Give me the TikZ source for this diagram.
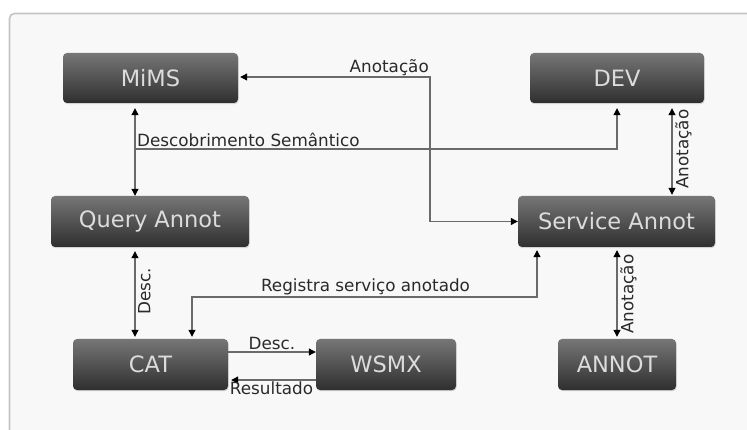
\documentclass[tikz,border=0pt]{standalone}
\usepackage{fontspec}
\setmainfont{DejaVu Sans}
\usetikzlibrary{arrows.meta,shadows,calc}
\definecolor{panelbg}{HTML}{F8F8F8}
\definecolor{panelborder}{HTML}{C4C4C4}
\definecolor{boxtop}{HTML}{767676}
\definecolor{boxmid}{HTML}{3C3C3C}
\definecolor{boxbot}{HTML}{2F2F2F}
\definecolor{boxtext}{HTML}{DCDCDC}
\definecolor{linecol}{HTML}{6A6A6A}
\definecolor{labcol}{HTML}{2A2A2A}
\tikzset{
  box/.style={rounded corners=4pt, top color=boxtop, middle color=boxmid, bottom color=boxbot,
    draw=none, text=boxtext, font=\fontsize{22.5}{24}\selectfont,
    drop shadow={shadow xshift=0.6pt, shadow yshift=-1.2pt, opacity=0.3},
    inner sep=0pt},
  conn/.style={draw=linecol, line width=1.1pt,
    arrows={-}, >={Triangle[length=7pt,width=7pt,black]}},
  lab/.style={text=labcol, font=\fontsize{16.8}{18}\selectfont, inner sep=1pt},
}
\begin{document}
\begin{tikzpicture}[x=1pt, y=-1pt]
\useasboundingbox (0,0) rectangle (747,430);
\clip (0,0) rectangle (747,430);
\fill[white] (0,0) rectangle (747,430);
\draw[draw=panelborder, line width=1.6pt, fill=panelbg, rounded corners=5pt] (9.5,13.5) rectangle (790,470);

% nodes
\node[box, minimum width=175pt, minimum height=50pt] (mims) at (150.5,78) {MiMS};
\node[box, minimum width=174pt, minimum height=50pt] (dev) at (617,78) {DEV};
\node[box, minimum width=198pt, minimum height=51pt] (qa) at (150,221.5) {Query Annot};
\node[box, minimum width=197pt, minimum height=51pt] (sa) at (616.5,221.5) {Service Annot};
\node[box, minimum width=155pt, minimum height=51pt] (cat) at (150.5,364.5) {CAT};
\node[box, minimum width=140pt, minimum height=51pt] (wsmx) at (386,364.5) {WSMX};
\node[box, minimum width=118pt, minimum height=51pt] (annot) at (617,364.5) {ANNOT};

% helper coordinates
\coordinate (xA) at (135,0);
\coordinate (xB) at (430,150);
\coordinate (xC) at (672,0);
\coordinate (xD) at (537,0);
\coordinate (xF) at (617,0);
\coordinate (dsem) at (135,149);
\coordinate (reg) at (192,297);

% MiMS <-> Query Annot
\draw[conn,<->] ([yshift=-5pt]mims.south -| xA) -- (qa.north -| xA);
% Descobrimento Semantico
\draw[conn,->] (dsem) -| ([yshift=-5pt]dev.south);
\node[lab, anchor=south west] (ldsem) at (136,148) {Descobrimento Semântico};
% Anotacao MiMS <-> Service Annot
\draw[conn,<->] ([xshift=2pt,yshift=1pt]mims.east) -| (xB) |- (sa.west);
\node[lab, anchor=south east] (lanot1) at (430,76.5) {Anotação};
% DEV <-> Service Annot
\draw[conn,<->] ([yshift=-5pt]dev.south -| xC) -- ([yshift=1pt]sa.north -| xC);
\node[lab, rotate=90, anchor=north] (lanot2) at (674,149) {Anotação};
% Query Annot <-> CAT
\draw[conn,<->] ([yshift=-4pt]qa.south -| xA) -- ([yshift=2pt]cat.north -| xA);
\node[lab, rotate=90, anchor=north] (ldesc1) at (137,291) {Desc.};
% Registra servico anotado
\draw[conn,<->] ([yshift=-3pt]sa.south -| xD) |- (reg) -- ([yshift=2pt]cat.north -| reg);
\node[lab, anchor=south] (lreg) at (365.5,296) {Registra serviço anotado};
% CAT -> WSMX
\draw[conn,->] ([yshift=12.5pt]cat.east) -- ([yshift=12.5pt]wsmx.west);
\node[lab, anchor=south] (ldesc2) at (272,351) {Desc.};
% WSMX -> CAT
\draw[conn,->] ([yshift=-15.5pt]wsmx.west) -- ([xshift=3pt,yshift=-15.5pt]cat.east);
\node[lab, anchor=north] (lres) at (271.5,381) {Resultado};
% Service Annot <-> ANNOT
\draw[conn,<->] ([yshift=-3pt]sa.south -| xF) -- ([yshift=2pt]annot.north);
\node[lab, rotate=90, anchor=north] (lanot3) at (619,294) {Anotação};
\end{tikzpicture}
\end{document}
